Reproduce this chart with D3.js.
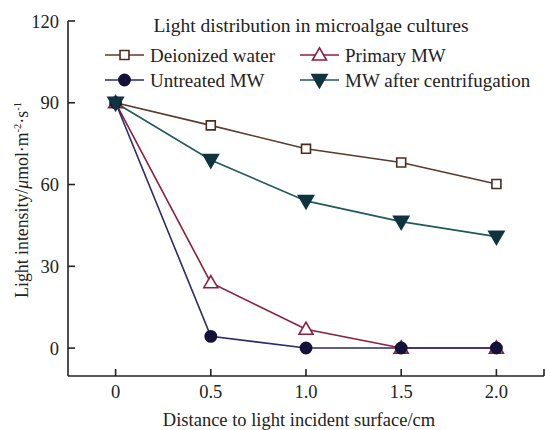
<!DOCTYPE html>
<html><head><meta charset="utf-8">
<script src="https://cdn.jsdelivr.net/npm/d3@7/dist/d3.min.js"></script>
<style>body{margin:0;background:#fff}svg{display:block}text{fill:#222}</style>
</head><body><svg id="c" width="545" height="430"></svg>
<script>
const distances = [0, 0.5, 1.0, 1.5, 2.0];
const xTicks = [0, 0.5, 1.0, 1.5, 2.0];
const xTickLabels = ["0", "0.5", "1.0", "1.5", "2.0"];
const yTicks = [0, 30, 60, 90, 120];
const deionized = [90, 81.7, 73.1, 68.1, 60.2];
const primaryMW = [90, 24.0, 6.9, 0, 0];
const untreatedMW = [90, 4.3, 0, 0, 0];
const centrifMW = [90, 69.0, 54.0, 46.4, 40.9];
const seriesNames = ["Deionized water", "Primary MW", "Untreated MW", "MW after centrifugation"];

const FONT = "Liberation Serif, Times New Roman, serif";
const sDei = {name: seriesNames[0], values: deionized, line: "#5b3a2c", stroke: "#4a2c20", fill: "#fff", sym: d3.symbolSquare, size: 80, rot: 0};
const sUnt = {name: seriesNames[2], values: untreatedMW, line: "#2d2a6a", stroke: "#141238", fill: "#141238", sym: d3.symbolCircle, size: 100, rot: 0};
const sPri = {name: seriesNames[1], values: primaryMW, line: "#8e1e3e", stroke: "#8e1e3e", fill: "#fff", sym: d3.symbolTriangle, size: 85, rot: 0};
const sCen = {name: seriesNames[3], values: centrifMW, line: "#1e5a5e", stroke: "#0f3440", fill: "#0f3440", sym: d3.symbolTriangle, size: 100, rot: 180};
const drawOrder = [sDei, sPri, sUnt, sCen];

const svg = d3.select("#c").attr("font-family", FONT);
const x = d3.scaleLinear().domain([-0.25, 2.25]).range([68, 544]);
const y = d3.scaleLinear().domain([-10.25, 120]).range([376, 21]);

// axes
const ax = svg.append("g").attr("stroke", "#222").attr("stroke-width", 1.6);
ax.append("line").attr("x1", x(-0.25)).attr("x2", x(-0.25)).attr("y1", y(120)).attr("y2", y(-10.25));
ax.append("line").attr("x1", x(-0.25)).attr("x2", x(2.25)).attr("y1", y(-10.25)).attr("y2", y(-10.25));
yTicks.forEach(t => ax.append("line").attr("x1", x(-0.25)).attr("x2", x(-0.25) + 7).attr("y1", y(t)).attr("y2", y(t)));
xTicks.concat([2.25]).forEach(t => ax.append("line").attr("x1", x(t)).attr("x2", x(t)).attr("y1", y(-10.25)).attr("y2", y(-10.25) - 7));

svg.append("g").selectAll("text").data(yTicks).join("text").attr("font-family", FONT)
  .attr("x", 59).attr("y", d => y(d) + 6.5).attr("text-anchor", "end").attr("font-size", 18.5).text(d => d);
svg.append("g").selectAll("text").data(xTicks).join("text").attr("font-family", FONT)
  .attr("x", d => x(d)).attr("y", 398).attr("text-anchor", "middle").attr("font-size", 18.5).text((d, i) => xTickLabels[i]);

svg.append("text").attr("font-family", FONT).attr("x", 299).attr("y", 426).attr("text-anchor", "middle").attr("font-size", 18.5)
  .text("Distance to light incident surface/cm");

const yl = svg.append("text").attr("font-family", FONT).attr("transform", "translate(28,200) rotate(-90)").attr("text-anchor", "middle").attr("font-size", 17.8);
yl.append("tspan").text("Light intensity/");
yl.append("tspan").attr("font-style", "italic").text("μ");
yl.append("tspan").text("mol·m");
yl.append("tspan").attr("font-size", 10.5).attr("dy", -7).text("-2");
yl.append("tspan").attr("dy", 7).text("·s");
yl.append("tspan").attr("font-size", 10.5).attr("dy", -7).text("-1");

// lines
const line = d3.line().x((d, i) => x(distances[i])).y(d => y(d));
drawOrder.forEach(s => {
  svg.append("path").attr("d", line(s.values)).attr("fill", "none").attr("stroke", s.line).attr("stroke-width", 1.6);
});
const off = s => s.rot ? -1 : (s.sym === d3.symbolTriangle ? 1 : 0);
drawOrder.forEach(s => {
  svg.append("g").selectAll("path").data(s.values).join("path")
    .attr("d", d3.symbol().type(s.sym).size(s.size))
    .attr("transform", (d, i) => `translate(${x(distances[i])},${y(d) + off(s)}) rotate(${s.rot})`)
    .attr("fill", s.fill).attr("stroke", s.stroke).attr("stroke-width", 1.6);
});

// legend
svg.append("text").attr("font-family", FONT).attr("x", 311).attr("y", 32).attr("text-anchor", "middle").attr("font-size", 19.5)
  .text("Light distribution in microalgae cultures");
const legPos = [[105, 55], [300, 55], [105, 80], [300, 80]];
const legOrder = [sDei, sPri, sUnt, sCen];
legOrder.forEach((s, i) => {
  const [lx, ly] = legPos[i];
  const g = svg.append("g");
  g.append("line").attr("x1", lx).attr("x2", lx + 39).attr("y1", ly).attr("y2", ly).attr("stroke", s.line).attr("stroke-width", 1.6);
  g.append("path").attr("d", d3.symbol().type(s.sym).size(s.size))
    .attr("transform", `translate(${lx + 19.5},${ly + off(s)}) rotate(${s.rot})`)
    .attr("fill", s.fill).attr("stroke", s.stroke).attr("stroke-width", 1.6);
  g.append("text").attr("font-family", FONT).attr("x", lx + 45).attr("y", ly + 7).attr("font-size", 19).text(s.name);
});
</script></body></html>
